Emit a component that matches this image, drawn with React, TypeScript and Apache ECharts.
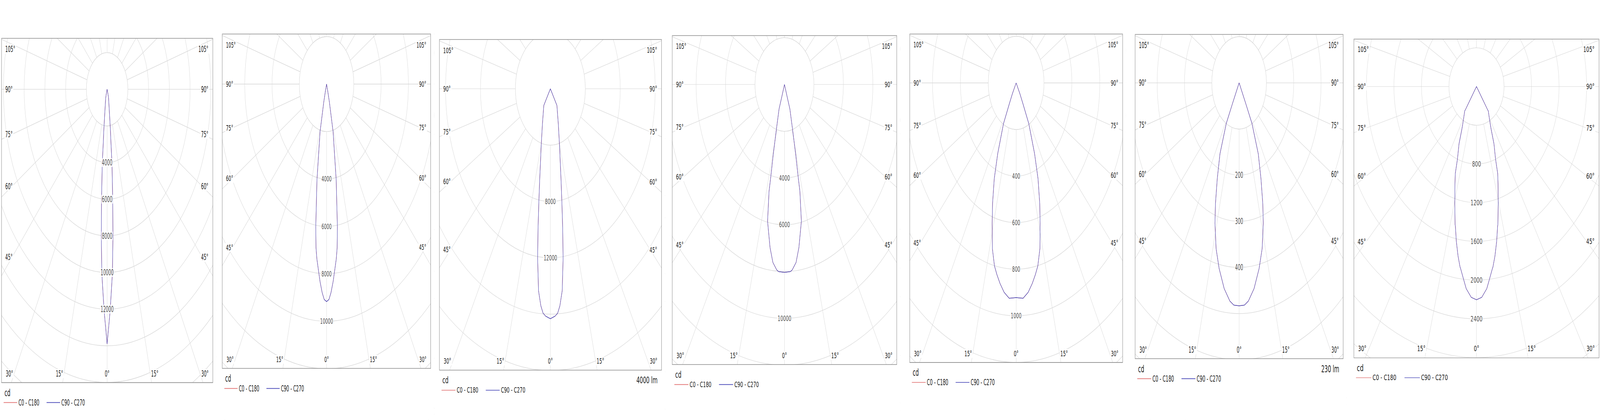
import React, { useEffect, useRef } from 'react';
import * as echarts from 'echarts';

const FONT = '"DejaVu Sans Condensed", Tahoma, Roboto, sans-serif';
const PAGE_W = 6425;
const PAGE_H = 1074;
const GRID = '#d6d6d6';
const FRAME = '#8c8c8c';
const TEXT = '#1a1a1a';
const RED = '#e06a6a';
const BLUE = '#3d3db4';
const SERIES_NAMES = ['C0 - C180', 'C90 - C270'];

// gamma (deg from nadir) and luminous intensity (cd)
const p1Gamma = [0, 1.4, 2.9, 4.0, 5.1, 6.6, 7.2, 8.1, 9.2, 12.0, 16.1, 17.4, 25];
const p1Cd = [13900, 12060, 10070, 8070, 6070, 4070, 2980, 2270, 1560, 840, 490, 270, 0];
const p1Rings = [4000, 6000, 8000, 10000, 12000];

const p2Gamma = [0, 1.1, 2.1, 3.3, 5.5, 6.4, 7.5, 9.9, 13.4, 15.2, 16.1, 20];
const p2Cd = [9170, 9080, 8800, 8340, 7410, 6950, 6080, 4100, 2060, 780, 300, 0];
const p2Rings = [4000, 6000, 8000, 10000];

const p3Gamma = [0, 1.9, 3.0, 4.05, 5.4, 6.9, 8.1, 9.3, 10.8, 14.9, 20.1, 32.4, 35];
const p3Cd = [16320, 16150, 15950, 15440, 14400, 12140, 10010, 8160, 6490, 4030, 2640, 1400, 0];
const p3Rings = [8000, 12000];

const p4Gamma = [0, 2.9, 3.8, 5.9, 8.0, 11.1, 12.9, 13.2, 14.3, 15.8, 19.3, 19.0, 22];
const p4Cd = [8035, 8010, 7945, 7650, 7040, 5960, 4690, 4120, 3060, 2070, 1110, 540, 0];
const p4Rings = [4000, 6000, 10000];

const p5Gamma = [0, 3.1, 5.5, 7.65, 9.5, 11.2, 13.5, 15.9, 18.1, 20.9, 23.5, 27.4, 28.6, 30.1, 32];
const p5Cd = [922, 926, 903, 869, 835, 801, 731, 628, 545, 440, 332, 198, 102, 54, 0];
const p5Rings = [400, 600, 800, 1000];

const p6Gamma = [0, 2.3, 4.1, 7.0, 10.3, 13.2, 16.2, 18.3, 21.1, 24.5, 28.1, 28.4, 30];
const p6Cd = [483, 482, 474, 449, 409, 369, 317, 276, 222, 169, 100, 51, 0];
const p6Rings = [200, 300, 400];

const p7Gamma = [0, 2.0, 4.1, 5.5, 7.0, 7.3, 8.7, 10.4, 12.0, 12.3, 14.6, 17.3, 18.5, 18.9, 20.3, 23.2, 25.8, 28.2, 34.1, 33.9, 36];
const p7Cd = [2203, 2179, 2093, 1993, 1895, 1880, 1772, 1625, 1475, 1460, 1252, 1053, 975, 952, 797, 645, 487, 410, 305, 285, 0];
const p7Rings = [800, 1200, 1600, 2000, 2400];

const diagrams = [
  { gamma: p1Gamma, cd: p1Cd, rings: p1Rings, step: 2000, flux: '' },
  { gamma: p2Gamma, cd: p2Cd, rings: p2Rings, step: 2000, flux: '' },
  { gamma: p3Gamma, cd: p3Cd, rings: p3Rings, step: 4000, flux: '4000 lm' },
  { gamma: p4Gamma, cd: p4Cd, rings: p4Rings, step: 2000, flux: '' },
  { gamma: p5Gamma, cd: p5Cd, rings: p5Rings, step: 200, flux: '' },
  { gamma: p6Gamma, cd: p6Cd, rings: p6Rings, step: 100, flux: '230 lm' },
  { gamma: p7Gamma, cd: p7Cd, rings: p7Rings, step: 400, flux: '' },
];

// page layout of each panel: frame edges, pole, px per cd, vertical stretch, text scale
const layouts = [
  { left: 5.5, top: 97.7, right: 854, bottom: 978, cx: 429.5, cy: 228, k: 0.04165, sy: 1.125, f: 0.97 },
  { left: 892, top: 87, right: 1729, bottom: 942, cx: 1311, cy: 215, k: 0.05475, sy: 1.108, f: 0.95 },
  { left: 1765, top: 101, right: 2657, bottom: 946.5, cx: 2210.5, cy: 227, k: 0.03508, sy: 1.027, f: 1 },
  { left: 2700, top: 90.6, right: 3601.6, bottom: 931.8, cx: 3150.7, cy: 215.6, k: 0.05916, sy: 1.011, f: 1.01 },
  { left: 3653, top: 86.8, right: 4508, bottom: 926.7, cx: 4080.3, cy: 211.8, k: 0.5597, sy: 1.064, f: 0.99 },
  { left: 4558, top: 88, right: 5393.4, bottom: 917.2, cx: 4975.6, cy: 211.8, k: 1.097, sy: 1.076, f: 1 },
  { left: 5436.5, top: 99.5, right: 6421, bottom: 914.6, cx: 5928.9, cy: 220.7, k: 0.2763, sy: 0.896, f: 1.1 },
];

type Diagram = typeof diagrams[number];
type Layout = typeof layouts[number];

function PolarDiagram({ d, l, sx, sy }: { d: Diagram; l: Layout; sx: number; sy: number }) {
  const chartRef = useRef<HTMLDivElement>(null);
  const pad = 14;
  const divLeft = l.left - pad;
  const divTop = l.top - pad;
  const width = l.right - l.left + 2 * pad;
  const height = (PAGE_H - divTop) / l.sy;

  useEffect(() => {
    if (!chartRef.current) return;
    const chart = echarts.init(chartRef.current, null, { renderer: 'svg' });

    // page coords -> chart coords (chart is stretched back with scaleY)
    const X = (x: number) => x - divLeft;
    const Y = (y: number) => (y - divTop) / l.sy;
    const fl = X(l.left), fr = X(l.right), ft = Y(l.top), fb = Y(l.bottom);
    const cx = X(l.cx), cy = Y(l.cy);

    const far = Math.max(
      ...[[fl, ft], [fr, ft], [fl, fb], [fr, fb]].map(([x, y]) => Math.hypot(x - cx, y - cy))
    );
    const ringMax = Math.ceil(far / l.k / d.step) * d.step + d.step;

    // closed curve: right half (360 - gamma) then left half (gamma)
    const curve: number[][] = [];
    for (let i = d.gamma.length - 1; i >= 0; i--) curve.push([d.cd[i], 360 - d.gamma[i]]);
    for (let i = 1; i < d.gamma.length; i++) curve.push([d.cd[i], d.gamma[i]]);

    const labelSize = 19 * l.f;
    const texts: any[] = [];
    const addText = (x: number, y: number, text: string, align: string, size = labelSize, bg = true) => {
      texts.push({
        type: 'text',
        x,
        y,
        z: 12,
        silent: true,
        style: {
          text,
          fill: TEXT,
          fontSize: size,
          fontFamily: FONT,
          align,
          verticalAlign: 'middle',
          backgroundColor: bg ? '#fff' : undefined,
          padding: bg ? [1, 3] : 0,
        },
      });
    };

    [105, 90, 75, 60, 45].forEach((a) => {
      const t = Math.tan((a * Math.PI) / 180);
      const fac = a > 90 ? 0.8 : 0.9;
      const dyL = a === 90 ? 0 : (fac * (cx - fl)) / t;
      const dyR = a === 90 ? 0 : (fac * (fr - cx)) / t;
      addText(fl + 12, cy + dyL, a + '°', 'left');
      addText(fr - 15, cy + dyR, a + '°', 'right');
    });
    const yb = Y(l.bottom - 23);
    const off15 = ((yb - cy) / 0.905) * Math.tan((15 * Math.PI) / 180);
    addText(fl + 14, yb, '30°', 'left');
    addText(cx - off15, yb, '15°', 'center');
    addText(cx, yb, '0°', 'center');
    addText(cx + off15, yb, '15°', 'center');
    addText(fr - 14, yb, '30°', 'right');

    addText(fl + 12, Y(l.bottom + 26), 'cd', 'left', 23 * l.f, false);
    if (d.flux) addText(fr - 16, Y(l.bottom + 26), d.flux, 'right', 23 * l.f, false);

    const mask = (x: number, y: number, w: number, h: number) => ({
      type: 'rect',
      z: 10,
      silent: true,
      shape: { x, y, width: w, height: h },
      style: { fill: '#fff' },
    });

    const legendSize = 19.5 * l.f;
    const option: any = {
      animation: false,
      polar: { center: [cx, cy], radius: [0, ringMax * l.k] },
      angleAxis: {
        type: 'value',
        min: 0,
        max: 360,
        interval: 15,
        startAngle: 270,
        clockwise: true,
        axisLine: { show: false },
        axisTick: { show: false },
        axisLabel: { show: false },
        splitLine: { show: true, lineStyle: { color: GRID, width: 1.2 } },
      },
      radiusAxis: {
        type: 'value',
        min: 0,
        max: ringMax,
        interval: d.step,
        axisLine: { show: false },
        axisTick: { show: false },
        axisLabel: { show: false },
        splitLine: { show: true, lineStyle: { color: GRID, width: 1.2 } },
      },
      legend: {
        data: SERIES_NAMES.map((name) => ({ name, icon: 'rect' })),
        left: fl + 8.5,
        top: Y(l.bottom + 51) - legendSize / 2,
        orient: 'horizontal',
        itemWidth: 56 * l.f,
        itemHeight: 1.6,
        itemGap: 30 * l.f,
        padding: 0,
        selectedMode: false,
        z: 20,
        textStyle: { color: TEXT, fontSize: legendSize, fontFamily: FONT },
      },
      graphic: [
        // blank hub: the spokes start at the first ring
        {
          type: 'circle',
          z: 1,
          silent: true,
          shape: { cx, cy, r: d.step * l.k },
          style: { fill: '#fff', stroke: GRID, lineWidth: 1.2 },
        },
        mask(0, 0, width, ft),
        mask(0, fb, width, height - fb),
        mask(0, 0, fl, height),
        mask(fr, 0, width - fr, height),
        {
          type: 'rect',
          z: 11,
          silent: true,
          shape: { x: fl, y: ft, width: fr - fl, height: fb - ft },
          style: { fill: 'none', stroke: FRAME, lineWidth: 1.5 },
        },
        ...texts,
      ],
      series: [
        {
          name: SERIES_NAMES[0],
          type: 'line',
          coordinateSystem: 'polar',
          data: curve,
          symbol: 'none',
          clip: false,
          z: 3,
          lineStyle: { color: RED, width: 1.2 },
          itemStyle: { color: RED },
        },
        {
          name: SERIES_NAMES[1],
          type: 'line',
          coordinateSystem: 'polar',
          data: curve,
          symbol: 'none',
          clip: false,
          z: 4,
          lineStyle: { color: BLUE, width: 1.4 },
          itemStyle: { color: BLUE },
        },
        {
          type: 'scatter',
          coordinateSystem: 'polar',
          data: d.rings.map((v) => [v, 0]),
          symbolSize: 1,
          clip: false,
          silent: true,
          z: 5,
          itemStyle: { color: 'rgba(0,0,0,0)' },
          label: {
            show: true,
            position: 'inside',
            formatter: (q: any) => String(q.value[0]),
            color: TEXT,
            fontSize: labelSize,
            fontFamily: FONT,
            backgroundColor: '#fff',
            padding: [1, 2],
          },
        },
      ],
    };

    chart.setOption(option);
    return () => {
      chart.dispose();
    };
  }, [d, l]);

  return (
    <div
      ref={chartRef}
      style={{
        position: 'absolute',
        left: divLeft * sx,
        top: divTop * sy,
        width,
        height,
        transform: `scale(${sx}, ${l.sy * sy})`,
        transformOrigin: '0 0',
      }}
    />
  );
}

export default function App() {
  // fit the 6425 x 1074 layout into whatever viewport we actually get
  const vw = window.innerWidth || PAGE_W;
  const vh = window.innerHeight || PAGE_H;
  const sx = Math.min(1, vw / PAGE_W);
  const sy = Math.min(1, vh / PAGE_H);
  return (
    <div
      style={{
        position: 'absolute',
        left: 0,
        top: 0,
        width: PAGE_W * sx,
        height: PAGE_H * sy,
        overflow: 'hidden',
        background: '#fff',
      }}
    >
      {diagrams.map((d, i) => (
        <PolarDiagram key={i} d={d} l={layouts[i]} sx={sx} sy={sy} />
      ))}
    </div>
  );
}
